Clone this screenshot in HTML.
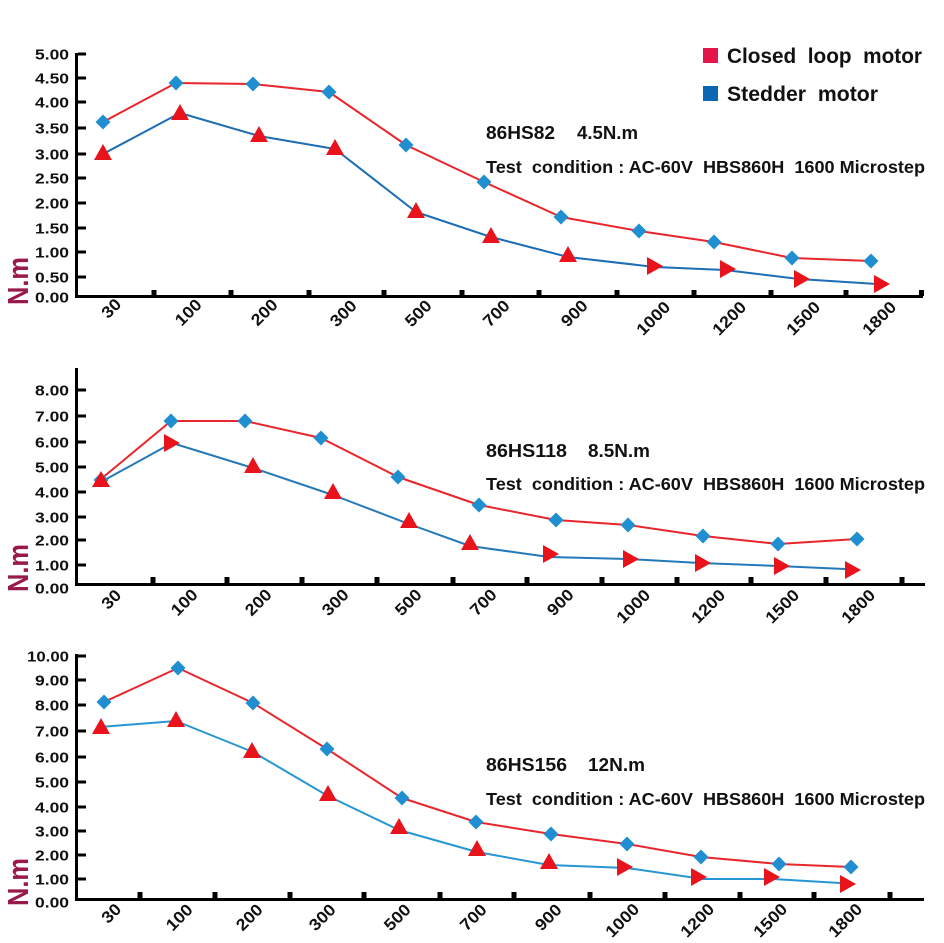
<!DOCTYPE html>
<html>
<head>
<meta charset="utf-8">
<style>
html,body{margin:0;padding:0;background:#fff;}
svg{display:block;}
text{font-family:"Liberation Sans",Arial,sans-serif;font-weight:bold;}
</style>
</head>
<body>
<svg width="944" height="943" viewBox="0 0 944 943" xmlns="http://www.w3.org/2000/svg">
<defs>
  <path id="dia" d="M0,-7.5 L7.5,0 L0,7.5 L-7.5,0 Z" fill="#1f8fd1"/>
  <path id="tu" d="M0,-9 L9,7 L-9,7 Z" fill="#e8131b"/>
  <path id="tr" d="M9,0 L-7,-9 L-7,9 Z" fill="#e8131b"/>
</defs>

<!-- ===== Legend ===== -->
<rect x="703" y="48" width="15" height="15" fill="#e3174c"/>
<text x="727" y="63" font-size="21" fill="#111" textLength="195" lengthAdjust="spacingAndGlyphs" xml:space="preserve">Closed  loop  motor</text>
<rect x="703" y="86" width="15" height="15" fill="#0b67b3"/>
<text x="727" y="101" font-size="21" fill="#111" textLength="151" lengthAdjust="spacingAndGlyphs" xml:space="preserve">Stedder  motor</text>

<!-- ===== CHART 1 ===== -->
<g fill="#111">
  <text x="486" y="139" font-size="18" textLength="69" lengthAdjust="spacingAndGlyphs">86HS82</text>
  <text x="577" y="139" font-size="18" textLength="61" lengthAdjust="spacingAndGlyphs">4.5N.m</text>
  <text x="486" y="173" font-size="17.5" textLength="439" lengthAdjust="spacingAndGlyphs" xml:space="preserve">Test  condition : AC-60V  HBS860H  1600 Microstep</text>
</g>
<text transform="translate(28,281) rotate(-90)" text-anchor="middle" font-size="29" fill="#98194a" textLength="48" lengthAdjust="spacingAndGlyphs">N.m</text>
<!-- axes -->
<rect x="75" y="53" width="3" height="245" fill="#000"/>
<rect x="75" y="295" width="848" height="3" fill="#000"/>
<g fill="#000">
  <rect x="78" y="52.5" width="8" height="3"/>
  <rect x="78" y="76.5" width="8" height="3"/>
  <rect x="78" y="100.5" width="8" height="3"/>
  <rect x="78" y="126.5" width="8" height="3"/>
  <rect x="78" y="152.5" width="8" height="3"/>
  <rect x="78" y="176.5" width="8" height="3"/>
  <rect x="78" y="201.5" width="8" height="3"/>
  <rect x="78" y="226.5" width="8" height="3"/>
  <rect x="78" y="250.5" width="8" height="3"/>
  <rect x="78" y="275.5" width="8" height="3"/>
  <rect x="151.5" y="290" width="5" height="6"/>
  <rect x="228.5" y="290" width="5" height="6"/>
  <rect x="306.5" y="290" width="5" height="6"/>
  <rect x="381.5" y="290" width="5" height="6"/>
  <rect x="459.5" y="290" width="5" height="6"/>
  <rect x="536.5" y="290" width="5" height="6"/>
  <rect x="614.5" y="290" width="5" height="6"/>
  <rect x="691.5" y="290" width="5" height="6"/>
  <rect x="768.5" y="290" width="5" height="6"/>
  <rect x="843.5" y="290" width="5" height="6"/>
  <rect x="919" y="290" width="5" height="6"/>
</g>
<g font-size="15" fill="#111" text-anchor="end">
  <text x="69" y="59.5" textLength="34" lengthAdjust="spacingAndGlyphs">5.00</text>
  <text x="69" y="83.5" textLength="34" lengthAdjust="spacingAndGlyphs">4.50</text>
  <text x="69" y="107.5" textLength="34" lengthAdjust="spacingAndGlyphs">4.00</text>
  <text x="69" y="133.5" textLength="34" lengthAdjust="spacingAndGlyphs">3.50</text>
  <text x="69" y="159.5" textLength="34" lengthAdjust="spacingAndGlyphs">3.00</text>
  <text x="69" y="183.5" textLength="34" lengthAdjust="spacingAndGlyphs">2.50</text>
  <text x="69" y="208.5" textLength="34" lengthAdjust="spacingAndGlyphs">2.00</text>
  <text x="69" y="233.5" textLength="34" lengthAdjust="spacingAndGlyphs">1.50</text>
  <text x="69" y="257.5" textLength="34" lengthAdjust="spacingAndGlyphs">1.00</text>
  <text x="69" y="282.5" textLength="34" lengthAdjust="spacingAndGlyphs">0.50</text>
  <text x="69" y="302.5" textLength="34" lengthAdjust="spacingAndGlyphs">0.00</text>
</g>
<g font-size="16.5" fill="#111" text-anchor="middle">
  <text x="111" y="314" transform="rotate(-45 111 308)" textLength="20" lengthAdjust="spacingAndGlyphs">30</text>
  <text x="188" y="318" transform="rotate(-45 188 312)" textLength="30" lengthAdjust="spacingAndGlyphs">100</text>
  <text x="264" y="318" transform="rotate(-45 264 312)" textLength="30" lengthAdjust="spacingAndGlyphs">200</text>
  <text x="343" y="319" transform="rotate(-45 343 313)" textLength="30" lengthAdjust="spacingAndGlyphs">300</text>
  <text x="418" y="319" transform="rotate(-45 418 313)" textLength="30" lengthAdjust="spacingAndGlyphs">500</text>
  <text x="496" y="319" transform="rotate(-45 496 313)" textLength="30" lengthAdjust="spacingAndGlyphs">700</text>
  <text x="574" y="319" transform="rotate(-45 574 313)" textLength="30" lengthAdjust="spacingAndGlyphs">900</text>
  <text x="653" y="324" transform="rotate(-45 653 318)" textLength="40" lengthAdjust="spacingAndGlyphs">1000</text>
  <text x="729" y="324" transform="rotate(-45 729 318)" textLength="40" lengthAdjust="spacingAndGlyphs">1200</text>
  <text x="803" y="324" transform="rotate(-45 803 318)" textLength="40" lengthAdjust="spacingAndGlyphs">1500</text>
  <text x="879" y="324" transform="rotate(-45 879 318)" textLength="40" lengthAdjust="spacingAndGlyphs">1800</text>
</g>
<polyline fill="none" stroke="#e8262c" stroke-width="2" stroke-linejoin="round" points="103,122 176,83 253,84 329,92 406,145 484,182 561,217 639,231 714,242 792,258 871,261"/>
<polyline fill="none" stroke="#1b6db5" stroke-width="2" stroke-linejoin="round" points="103,154 180,113 259,136 335,149 416,212 491,237 568,257 655,267 725,270 799,279 877,284"/>
<use href="#dia" x="103" y="122"/><use href="#dia" x="176" y="83"/><use href="#dia" x="253" y="84"/><use href="#dia" x="329" y="92"/><use href="#dia" x="406" y="145"/><use href="#dia" x="484" y="182"/><use href="#dia" x="561" y="217"/><use href="#dia" x="639" y="231"/><use href="#dia" x="714" y="242"/><use href="#dia" x="792" y="258"/><use href="#dia" x="871" y="261"/>
<use href="#tu" x="103" y="153"/><use href="#tu" x="180" y="113"/><use href="#tu" x="259" y="135"/><use href="#tu" x="335" y="148"/><use href="#tu" x="416" y="211"/><use href="#tu" x="491" y="236"/><use href="#tu" x="568" y="255"/>
<use href="#tr" x="654" y="266"/><use href="#tr" x="727" y="269"/><use href="#tr" x="801" y="279"/><use href="#tr" x="881" y="284"/>

<!-- ===== CHART 2 ===== -->
<g fill="#111">
  <text x="486" y="457" font-size="18" textLength="81" lengthAdjust="spacingAndGlyphs">86HS118</text>
  <text x="588" y="457" font-size="18" textLength="62" lengthAdjust="spacingAndGlyphs">8.5N.m</text>
  <text x="486" y="490" font-size="17.5" textLength="439" lengthAdjust="spacingAndGlyphs" xml:space="preserve">Test  condition : AC-60V  HBS860H  1600 Microstep</text>
</g>
<text transform="translate(28,568) rotate(-90)" text-anchor="middle" font-size="29" fill="#98194a" textLength="48" lengthAdjust="spacingAndGlyphs">N.m</text>
<rect x="75" y="368" width="3" height="218" fill="#000"/>
<rect x="75" y="583" width="850" height="3" fill="#000"/>
<g fill="#000">
  <rect x="78" y="388.5" width="8" height="3"/>
  <rect x="78" y="414.5" width="8" height="3"/>
  <rect x="78" y="440.5" width="8" height="3"/>
  <rect x="78" y="465.5" width="8" height="3"/>
  <rect x="78" y="490.5" width="8" height="3"/>
  <rect x="78" y="515.5" width="8" height="3"/>
  <rect x="78" y="538.5" width="8" height="3"/>
  <rect x="78" y="563.5" width="8" height="3"/>
  <rect x="150.5" y="577" width="5" height="6"/>
  <rect x="224.5" y="577" width="5" height="6"/>
  <rect x="299.5" y="577" width="5" height="6"/>
  <rect x="374.5" y="577" width="5" height="6"/>
  <rect x="450.5" y="577" width="5" height="6"/>
  <rect x="524.5" y="577" width="5" height="6"/>
  <rect x="599.5" y="577" width="5" height="6"/>
  <rect x="674.5" y="577" width="5" height="6"/>
  <rect x="748.5" y="577" width="5" height="6"/>
  <rect x="823.5" y="577" width="5" height="6"/>
  <rect x="899.5" y="577" width="5" height="6"/>
</g>
<g font-size="15" fill="#111" text-anchor="end">
  <text x="69" y="395.5" textLength="34" lengthAdjust="spacingAndGlyphs">8.00</text>
  <text x="69" y="421.5" textLength="34" lengthAdjust="spacingAndGlyphs">7.00</text>
  <text x="69" y="447.5" textLength="34" lengthAdjust="spacingAndGlyphs">6.00</text>
  <text x="69" y="472.5" textLength="34" lengthAdjust="spacingAndGlyphs">5.00</text>
  <text x="69" y="497.5" textLength="34" lengthAdjust="spacingAndGlyphs">4.00</text>
  <text x="69" y="522.5" textLength="34" lengthAdjust="spacingAndGlyphs">3.00</text>
  <text x="69" y="545.5" textLength="34" lengthAdjust="spacingAndGlyphs">2.00</text>
  <text x="69" y="570.5" textLength="34" lengthAdjust="spacingAndGlyphs">1.00</text>
  <text x="69" y="593.5" textLength="34" lengthAdjust="spacingAndGlyphs">0.00</text>
</g>
<g font-size="16.5" fill="#111" text-anchor="middle">
  <text x="111" y="605" transform="rotate(-45 111 599)" textLength="20" lengthAdjust="spacingAndGlyphs">30</text>
  <text x="184" y="608" transform="rotate(-45 184 602)" textLength="30" lengthAdjust="spacingAndGlyphs">100</text>
  <text x="258" y="608" transform="rotate(-45 258 602)" textLength="30" lengthAdjust="spacingAndGlyphs">200</text>
  <text x="335" y="608" transform="rotate(-45 335 602)" textLength="30" lengthAdjust="spacingAndGlyphs">300</text>
  <text x="408" y="608" transform="rotate(-45 408 602)" textLength="30" lengthAdjust="spacingAndGlyphs">500</text>
  <text x="483" y="608" transform="rotate(-45 483 602)" textLength="30" lengthAdjust="spacingAndGlyphs">700</text>
  <text x="560" y="608" transform="rotate(-45 560 602)" textLength="30" lengthAdjust="spacingAndGlyphs">900</text>
  <text x="633" y="612" transform="rotate(-45 633 606)" textLength="40" lengthAdjust="spacingAndGlyphs">1000</text>
  <text x="708" y="612" transform="rotate(-45 708 606)" textLength="40" lengthAdjust="spacingAndGlyphs">1200</text>
  <text x="782" y="612" transform="rotate(-45 782 606)" textLength="40" lengthAdjust="spacingAndGlyphs">1500</text>
  <text x="858" y="612" transform="rotate(-45 858 606)" textLength="40" lengthAdjust="spacingAndGlyphs">1800</text>
</g>
<polyline fill="none" stroke="#e8262c" stroke-width="2" stroke-linejoin="round" points="101,479 171,421 245,421 321,438 398,477 479,505 556,520 628,525 703,536 778,544 857,539"/>
<polyline fill="none" stroke="#2479b9" stroke-width="2" stroke-linejoin="round" points="101,482 172,443 253,468 333,495 409,524 470,546 549,557 628,559 700,563 778,566 845,569"/>
<use href="#dia" x="101" y="480"/><use href="#dia" x="171" y="421"/><use href="#dia" x="245" y="421"/><use href="#dia" x="321" y="438"/><use href="#dia" x="398" y="477"/><use href="#dia" x="479" y="505"/><use href="#dia" x="556" y="520"/><use href="#dia" x="628" y="525"/><use href="#dia" x="703" y="536"/><use href="#dia" x="778" y="544"/><use href="#dia" x="857" y="539"/>
<use href="#tu" x="101" y="480"/><use href="#tr" x="171" y="443"/><use href="#tu" x="253" y="466"/><use href="#tu" x="333" y="492"/><use href="#tu" x="409" y="521"/><use href="#tu" x="470" y="543"/>
<use href="#tr" x="550" y="554"/><use href="#tr" x="630" y="559"/><use href="#tr" x="702" y="563"/><use href="#tr" x="781" y="566"/><use href="#tr" x="852" y="570"/>

<!-- ===== CHART 3 ===== -->
<g fill="#111">
  <text x="486" y="771" font-size="18" textLength="81" lengthAdjust="spacingAndGlyphs">86HS156</text>
  <text x="588" y="771" font-size="18" textLength="57" lengthAdjust="spacingAndGlyphs">12N.m</text>
  <text x="486" y="805" font-size="17.5" textLength="439" lengthAdjust="spacingAndGlyphs" xml:space="preserve">Test  condition : AC-60V  HBS860H  1600 Microstep</text>
</g>
<text transform="translate(28,882) rotate(-90)" text-anchor="middle" font-size="29" fill="#98194a" textLength="48" lengthAdjust="spacingAndGlyphs">N.m</text>
<rect x="75" y="654" width="3" height="247" fill="#000"/>
<rect x="75" y="898" width="849" height="3" fill="#000"/>
<g fill="#000">
  <rect x="78" y="654.5" width="8" height="3"/>
  <rect x="78" y="678.5" width="8" height="3"/>
  <rect x="78" y="703.5" width="8" height="3"/>
  <rect x="78" y="729.5" width="8" height="3"/>
  <rect x="78" y="755.5" width="8" height="3"/>
  <rect x="78" y="780.5" width="8" height="3"/>
  <rect x="78" y="805.5" width="8" height="3"/>
  <rect x="78" y="829.5" width="8" height="3"/>
  <rect x="78" y="853.5" width="8" height="3"/>
  <rect x="78" y="877.5" width="8" height="3"/>
  <rect x="137.5" y="892" width="5" height="6"/>
  <rect x="212.5" y="892" width="5" height="6"/>
  <rect x="287.5" y="892" width="5" height="6"/>
  <rect x="361.5" y="892" width="5" height="6"/>
  <rect x="437.5" y="892" width="5" height="6"/>
  <rect x="511.5" y="892" width="5" height="6"/>
  <rect x="587.5" y="892" width="5" height="6"/>
  <rect x="662.5" y="892" width="5" height="6"/>
  <rect x="737.5" y="892" width="5" height="6"/>
  <rect x="811.5" y="892" width="5" height="6"/>
  <rect x="887.5" y="892" width="5" height="6"/>
</g>
<g font-size="15" fill="#111" text-anchor="end">
  <text x="69" y="661.5" textLength="42" lengthAdjust="spacingAndGlyphs">10.00</text>
  <text x="69" y="685.5" textLength="34" lengthAdjust="spacingAndGlyphs">9.00</text>
  <text x="69" y="710.5" textLength="34" lengthAdjust="spacingAndGlyphs">8.00</text>
  <text x="69" y="736.5" textLength="34" lengthAdjust="spacingAndGlyphs">7.00</text>
  <text x="69" y="762.5" textLength="34" lengthAdjust="spacingAndGlyphs">6.00</text>
  <text x="69" y="787.5" textLength="34" lengthAdjust="spacingAndGlyphs">5.00</text>
  <text x="69" y="812.5" textLength="34" lengthAdjust="spacingAndGlyphs">4.00</text>
  <text x="69" y="836.5" textLength="34" lengthAdjust="spacingAndGlyphs">3.00</text>
  <text x="69" y="860.5" textLength="34" lengthAdjust="spacingAndGlyphs">2.00</text>
  <text x="69" y="884.5" textLength="34" lengthAdjust="spacingAndGlyphs">1.00</text>
  <text x="69" y="907.5" textLength="34" lengthAdjust="spacingAndGlyphs">0.00</text>
</g>
<g font-size="16.5" fill="#111" text-anchor="middle">
  <text x="111" y="919" transform="rotate(-45 111 913)" textLength="20" lengthAdjust="spacingAndGlyphs">30</text>
  <text x="179" y="923" transform="rotate(-45 179 917)" textLength="30" lengthAdjust="spacingAndGlyphs">100</text>
  <text x="249" y="923" transform="rotate(-45 249 917)" textLength="30" lengthAdjust="spacingAndGlyphs">200</text>
  <text x="322" y="923" transform="rotate(-45 322 917)" textLength="30" lengthAdjust="spacingAndGlyphs">300</text>
  <text x="397" y="923" transform="rotate(-45 397 917)" textLength="30" lengthAdjust="spacingAndGlyphs">500</text>
  <text x="473" y="923" transform="rotate(-45 473 917)" textLength="30" lengthAdjust="spacingAndGlyphs">700</text>
  <text x="548" y="923" transform="rotate(-45 548 917)" textLength="30" lengthAdjust="spacingAndGlyphs">900</text>
  <text x="622" y="926" transform="rotate(-45 622 920)" textLength="40" lengthAdjust="spacingAndGlyphs">1000</text>
  <text x="697" y="926" transform="rotate(-45 697 920)" textLength="40" lengthAdjust="spacingAndGlyphs">1200</text>
  <text x="770" y="926" transform="rotate(-45 770 920)" textLength="40" lengthAdjust="spacingAndGlyphs">1500</text>
  <text x="845" y="926" transform="rotate(-45 845 920)" textLength="40" lengthAdjust="spacingAndGlyphs">1800</text>
</g>
<polyline fill="none" stroke="#e8262c" stroke-width="2" stroke-linejoin="round" points="104,702 178,668 253,703 327,749 402,798 476,822 551,834 627,844 701,857 779,864 851,867"/>
<polyline fill="none" stroke="#2796d2" stroke-width="2" stroke-linejoin="round" points="100,727 176,721 253,752 328,796 399,830 477,852 549,865 627,868 703,879 773,879 840,883"/>
<use href="#dia" x="104" y="702"/><use href="#dia" x="178" y="668"/><use href="#dia" x="253" y="703"/><use href="#dia" x="327" y="749"/><use href="#dia" x="402" y="798"/><use href="#dia" x="476" y="822"/><use href="#dia" x="551" y="834"/><use href="#dia" x="627" y="844"/><use href="#dia" x="701" y="857"/><use href="#dia" x="779" y="864"/><use href="#dia" x="851" y="867"/>
<use href="#tu" x="101" y="727"/><use href="#tu" x="176" y="720"/><use href="#tu" x="252" y="751"/><use href="#tu" x="328" y="794"/><use href="#tu" x="399" y="827"/><use href="#tu" x="477" y="849"/><use href="#tu" x="549" y="862"/>
<use href="#tr" x="624" y="867"/><use href="#tr" x="698" y="877"/><use href="#tr" x="771" y="877"/><use href="#tr" x="847" y="884"/>
</svg>
</body>
</html>
